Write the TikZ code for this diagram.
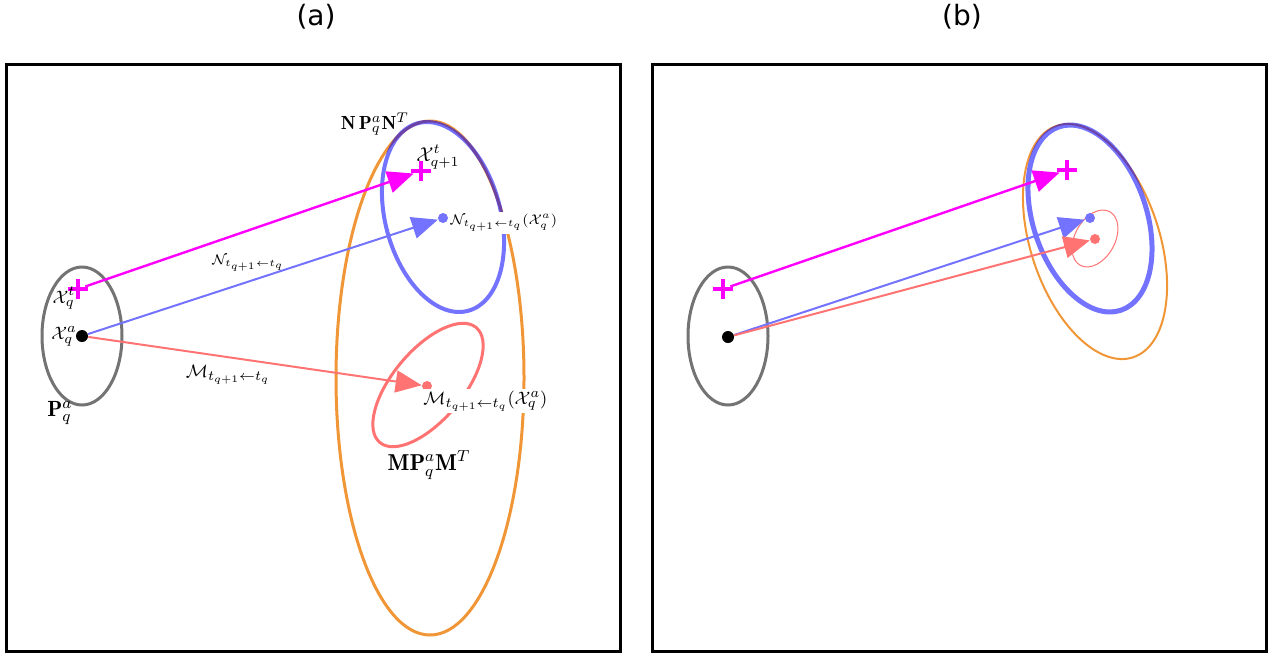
\documentclass[tikz,border=0pt]{standalone}
\usepackage{amsmath}
\usepackage{fontspec}
\setsansfont{DejaVu Sans}
\usetikzlibrary{arrows.meta,shapes.misc}
\definecolor{covorange}{RGB}{240,150,55}
\definecolor{covgray}{RGB}{115,115,115}
\definecolor{tgtmag}{RGB}{255,0,255}
\definecolor{nblue}{RGB}{115,115,255}
\definecolor{mred}{RGB}{255,115,115}

\begin{document}
\begin{tikzpicture}[x=0.5pt,y=-0.5pt,
  panel/.style={draw,line width=1.5pt},
  cov/.style={line width=1.5pt},
  dot/.style={circle,fill=#1,inner sep=0pt,minimum size=5pt},
  tgt/.style={cross out,draw=tgtmag,line width=2pt,minimum size=5pt,inner sep=0pt,rotate=45},
  tip/.style={-{Triangle[length=13pt,width=11pt]}},
  lbl/.style={font=\fontsize{9.5}{11}\selectfont,inner sep=1pt},
  ttl/.style={font=\sffamily\fontsize{14}{16}\selectfont}]
\useasboundingbox (0,0) rectangle (1274,654);
\foreach \dx/\1 in %
{0/a,646/b} {
   \node[ttl] (ttl\1) at (316+\dx,17) {(\1)};
   \draw[panel] (6+\dx,64) rectangle (620+\dx,651);
   \draw[cov,covgray] (82+\dx,336) ellipse [x radius=40, y radius=69];
}
% (a)
\draw[cov,covorange] (430,378) ellipse [x radius=94, y radius=257];
\draw[blue,opacity=.55,line width=2pt,rotate around={15:(443,217)}] (443,217) ellipse [x radius=57.6, y radius=97.1];
\draw[cov,red,opacity=.55,rotate around={-40:(428,385)}] (428,385) ellipse [x radius=35, y radius=75];
\node[dot=black,minimum size=6pt] (xaA) at (82,336) {};
\node[tgt] (xtA) at (78,289) {};
\node[tgt] (xnA) at (421,171) {};
\node[dot=nblue] (nA) at (443,218) {};
\node[dot=mred] (mA) at (427,386) {};
\node[lbl,anchor=west,fill=white,font=\fontsize{7.5}{9}\selectfont] (nxA) at (448,223) {$\mathcal{N}_{t_{q+1}\leftarrow t_q}(\mathcal{X}_q^a)$};
\node[lbl,anchor=west,fill=white] (mxA) at (421,401) {$\mathcal{M}_{t_{q+1}\leftarrow t_q}(\mathcal{X}_q^a)$};
\node[lbl] (npnA) at (375,124) {$\mathbf{N}\,\mathbf{P}_q^a\mathbf{N}^T$};
\node[lbl,font=\fontsize{11.5}{13}\selectfont] (mpmA) at (429,465) {$\mathbf{M}\mathbf{P}_q^a\mathbf{M}^T$};
\node[lbl,font=\fontsize{10}{12}\selectfont] (xnlA) at (438,157) {$\mathcal{X}_{q+1}^t$};
\node[lbl] (xtlA) at (64,298) {$\mathcal{X}_q^t$};
\node[lbl] (xalA) at (64,336) {$\mathcal{X}_q^a$};
\node[lbl,font=\fontsize{11}{13}\selectfont] (pA) at (60,413) {$\mathbf{P}_q^a$};
\node[lbl,font=\fontsize{6.8}{8}\selectfont] (nlA) at (248,263) {$\mathcal{N}_{t_{q+1}\leftarrow t_q}$};
\node[lbl,font=\fontsize{9.3}{11}\selectfont] (mlA) at (228,375) {$\mathcal{M}_{t_{q+1}\leftarrow t_q}$};
\draw[tip,tgtmag,line width=1.2pt] (xtA) -- (xnA);
\draw[tip,nblue,line width=1pt] (xaA) -- (nA);
\draw[tip,mred,line width=1pt] (xaA) -- (mA);
% (b)
\draw[covorange,line width=1pt,rotate around={18.2:(1095,241.5)}] (1095,241.5) ellipse [x radius=64.4, y radius=121.9];
\draw[blue,opacity=.55,line width=2.5pt,rotate around={18.7:(1090,218.5)}] (1090,218.5) ellipse [x radius=56.7, y radius=96.8];
\draw[red,opacity=.55,line width=.5pt,rotate around={-29:(1095,238.5)}] (1095,238.5) ellipse [x radius=20, y radius=30.6];
\node[dot=black,minimum size=6pt] (xaB) at (728,337) {};
\node[tgt] (xtB) at (723,289) {};
\node[tgt] (xnB) at (1067,170) {};
\node[dot=nblue] (nB) at (1090,218) {};
\node[dot=mred] (mB) at (1095,239) {};
\draw[tip,tgtmag,line width=1.2pt] (xtB) -- (xnB);
\draw[tip,nblue,line width=1pt] (xaB) -- (nB);
\draw[tip,mred,line width=1pt] (xaB) -- (mB);
\end{tikzpicture}
\end{document}
